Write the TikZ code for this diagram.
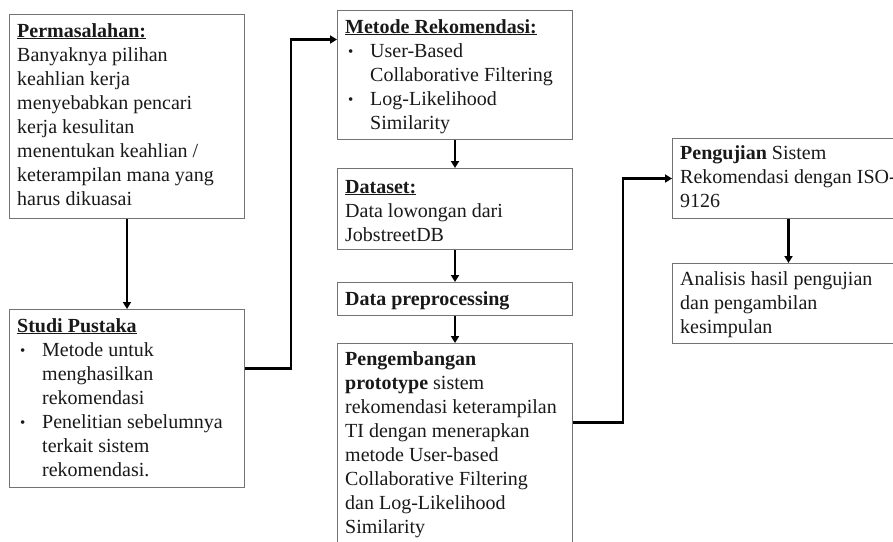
\documentclass[tikz,border=0pt]{standalone}
\usepackage{fontspec}
\setmainfont{Liberation Serif}
\usetikzlibrary{arrows.meta}
\newcommand{\bul}{\makebox[25pt][l]{\hspace{3pt}\raisebox{1pt}{\fontsize{15}{15}\selectfont\textbullet}}}
\newcommand{\ind}{\hspace*{25pt}}
\tikzset{
  box/.style={draw=black!55, line width=1pt, rectangle, inner sep=0pt, anchor=north west},
  txt/.style={anchor=north west, inner sep=0pt, align=left, font=\fontsize{20}{24}\selectfont, text=black!90},
  conn/.style={line width=2.9pt, -{Triangle[length=7pt,width=8pt]}},
}
\begin{document}
\begin{tikzpicture}[x=1pt,y=-1pt]
\clip (0,0) rectangle (893,541);
\fill[white] (0,0) rectangle (893,541);
% boxes
\node[box, minimum width=235pt, minimum height=204pt] (b1) at (9,14) {};
\node[box, minimum width=235pt, minimum height=178pt] (b2) at (9,309) {};
\node[box, minimum width=235pt, minimum height=129pt] (b3) at (337,10) {};
\node[box, minimum width=235pt, minimum height=81pt] (b4) at (337,168) {};
\node[box, minimum width=235pt, minimum height=33pt] (b5) at (337,282) {};
\node[box, minimum width=235pt, minimum height=217pt] (b6) at (337,343) {};
\node[box, minimum width=232pt, minimum height=80pt] (b7) at (672,138) {};
\node[box, minimum width=232pt, minimum height=80pt] (b8) at (672,263) {};
% texts
\node[txt] (t1) at (17,20) {\strut\textbf{\underline{Permasalahan:}}\\
Banyaknya pilihan\\
keahlian kerja\\
menyebabkan pencari\\
kerja kesulitan\\
menentukan keahlian /\\
keterampilan mana yang\\
harus dikuasai};
\node[txt] (t2) at (17,315) {\strut\textbf{\underline{Studi Pustaka}}\\
\bul Metode untuk\\
\ind menghasilkan\\
\ind rekomendasi\\
\bul Penelitian sebelumnya\\
\ind terkait sistem\\
\ind rekomendasi.};
\node[txt] (t3) at (345,16) {\strut\textbf{\underline{Metode Rekomendasi:}}\\
\bul User-Based\\
\ind Collaborative Filtering\\
\bul Log-Likelihood\\
\ind Similarity};
\node[txt] (t4) at (345,176) {\strut\textbf{\underline{Dataset:}}\\
Data lowongan dari\\
JobstreetDB};
\node[txt] (t5) at (345,288) {\strut\textbf{Data preprocessing}};
\node[txt] (t6) at (345,348) {\strut\textbf{Pengembangan}\\
\textbf{prototype} sistem\\
rekomendasi keterampilan\\
TI dengan menerapkan\\
metode User-based\\
Collaborative Filtering\\
dan Log-Likelihood\\
Similarity};
\node[txt] (t7) at (680,142) {\strut\textbf{Pengujian} Sistem\\
Rekomendasi dengan ISO-\\
9126};
\node[txt] (t8) at (680,268) {\strut Analisis hasil pengujian\\
dan pengambilan\\
kesimpulan};
% connectors
\draw[conn] (b1.south) -- (b2.north);
\draw[conn] ([yshift=30pt]b2.east) -- ++(46,0) |- ([yshift=35.5pt]b3.west);
\draw[conn] (b3.south) -- (b4.north);
\draw[conn] (b4.south) -- (b5.north);
\draw[conn] (b5.south) -- (b6.north);
\draw[conn] ([yshift=29.5pt]b6.east) -- ++(50,0) |- (b7.west);
\draw[conn] (b7.south) -- (b8.north);
\end{tikzpicture}
\end{document}
